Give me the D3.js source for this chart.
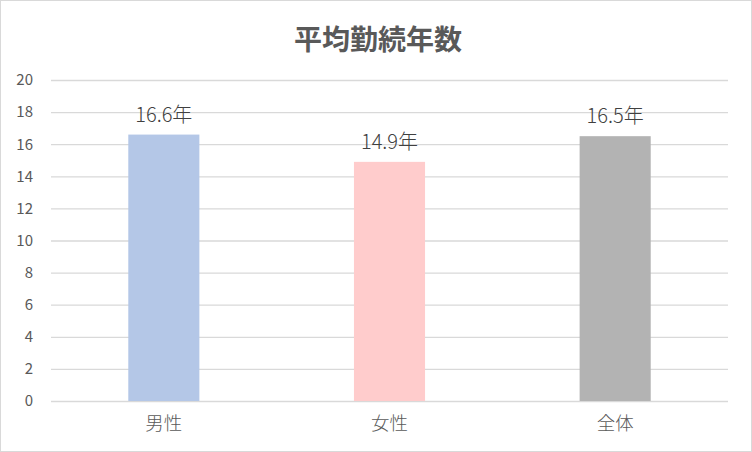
<!DOCTYPE html>
<html><head><meta charset="utf-8">
<script src="https://cdn.jsdelivr.net/npm/d3@7"></script>
<style>body{margin:0;background:#fff}svg{display:block}</style>
</head><body>
<script>
const categories = ["男性","女性","全体"];
const values = [16.6, 14.9, 16.5];
const barColors = ["#b4c7e7","#ffcccc","#b3b3b3"];
const yTicks = [0,2,4,6,8,10,12,14,16,18,20];
const title = "平均勤続年数";
const unit = "年";

const W = 752, H = 452;
const m = {left:51, right:24, top:80, bottom:51};
const font = "'Noto Sans CJK JP','Noto Sans',sans-serif";
const svg = d3.select("body").append("svg").attr("width",W).attr("height",H);
svg.append("rect").attr("x",0.5).attr("y",0.5).attr("width",W-1).attr("height",H-1)
  .attr("fill","#fff").attr("stroke","#d9d9d9");

const x = d3.scaleBand().domain(categories).range([m.left, W-m.right]).paddingInner(0.685).paddingOuter(0.3425);
const y = d3.scaleLinear().domain([0,20]).range([H-m.bottom, m.top]);

svg.append("text").attr("x",W/2+2).attr("y",50).attr("text-anchor","middle")
  .attr("font-family",font).attr("font-weight","bold").attr("font-size",28).attr("fill","#595959").text(title);

const gy = svg.append("g").attr("transform",`translate(${m.left},0)`)
  .call(d3.axisLeft(y).tickValues(yTicks).tickSize(-(W-m.left-m.right)).tickPadding(18));
gy.select(".domain").remove();
gy.selectAll(".tick line").attr("stroke","#d9d9d9").attr("stroke-width",1.3);
gy.selectAll(".tick text").attr("font-family",font).attr("font-size",15).attr("fill","#595959");

svg.selectAll("rect.bar").data(values).join("rect").attr("class","bar")
  .attr("x",(d,i)=>x(categories[i])).attr("width",x.bandwidth())
  .attr("y",d=>y(d)).attr("height",d=>y(0)-y(d)).attr("fill",(d,i)=>barColors[i]);

svg.selectAll("text.lbl").data(values).join("text").attr("class","lbl")
  .attr("x",(d,i)=>x(categories[i])+x.bandwidth()/2).attr("y",d=>y(d)-13)
  .attr("text-anchor","middle").attr("font-family",font).attr("font-weight",300).attr("font-size",20).attr("fill","#404040")
  .text(d=>d.toFixed(1)+unit);

const gx = svg.append("g").attr("transform",`translate(0,${H-m.bottom})`)
  .call(d3.axisBottom(x).tickSize(0).tickPadding(16));
gx.select(".domain").remove();
gx.selectAll(".tick text").attr("font-family",font).attr("font-weight",300).attr("font-size",18.5).attr("fill","#595959");
</script>
</body></html>
